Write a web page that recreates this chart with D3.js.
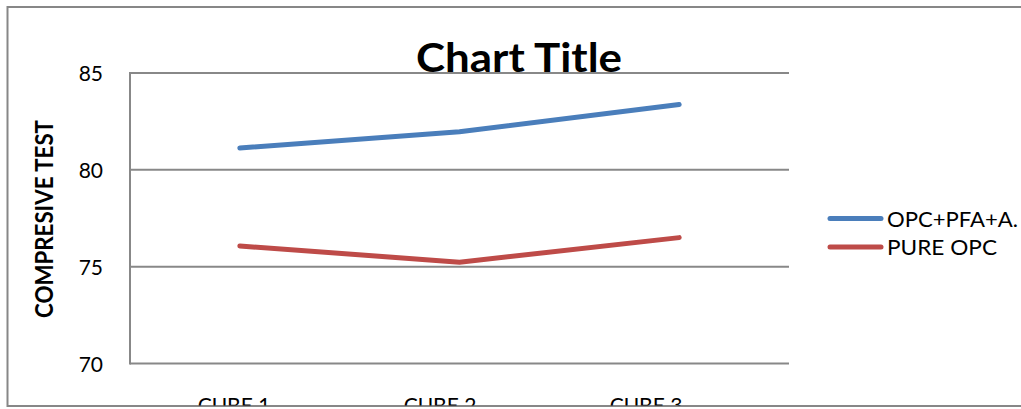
<!DOCTYPE html>
<html>
<head>
<meta charset="utf-8">
<script src="https://cdn.jsdelivr.net/npm/d3@7"></script>
<style>
  html, body { margin: 0; padding: 0; background: #fff; }
  svg { display: block; }
  text { font-family: Lato, "Open Sans", sans-serif; fill: #000; }
</style>
</head>
<body>
<svg id="chart" width="1021" height="409"></svg>
<script>
const categories = ["CUBE 1", "CUBE 2", "CUBE 3"];
const seriesNames = ["OPC+PFA+A.", "PURE OPC"];
const opcPfa = [81.13, 81.97, 83.37];
const pureOpc = [76.07, 75.23, 76.5];
const yTicks = [70, 75, 80, 85];
const chartTitle = "Chart Title";
const yTitle = "COMPRESIVE TEST";

const colors = ["#4A7EBB", "#BE4B48"];
const series = [opcPfa, pureOpc];

const svg = d3.select("#chart");
const W = 1021, H = 409;
const plot = { left: 130, right: 789, top: 73, bottom: 363.5 };

// outer chart border
svg.append("rect")
  .attr("x", 7.5).attr("y", 7).attr("width", W + 20).attr("height", 399)
  .attr("fill", "#fff").attr("stroke", "#878787").attr("stroke-width", 2);

const x = d3.scaleBand().domain(categories).range([plot.left, plot.right]);
const xLabel = d3.scaleBand().domain(categories).range([131, 749]);
const y = d3.scaleLinear().domain([70, 85]).range([plot.bottom, plot.top]);

// gridlines
svg.append("g").selectAll("line").data(yTicks).join("line")
  .attr("x1", plot.left).attr("x2", plot.right)
  .attr("y1", d => y(d)).attr("y2", d => y(d))
  .attr("stroke", "#888").attr("stroke-width", 2);

// y axis line
svg.append("line")
  .attr("x1", plot.left).attr("x2", plot.left)
  .attr("y1", plot.top - 1).attr("y2", plot.bottom + 1)
  .attr("stroke", "#888").attr("stroke-width", 2);

// y tick labels
const yAxis = d3.axisLeft(y).tickValues(yTicks).tickSize(0).tickPadding(0);
const yg = svg.append("g").attr("transform", `translate(103,0)`).call(yAxis);
yg.select(".domain").remove();
yg.selectAll("text")
  .attr("font-family", "Lato, 'Open Sans', sans-serif")
  .attr("font-size", 21).attr("fill", "#000")
  .attr("dy", "0.36em");

// x category labels (clipped by chart border)
svg.append("clipPath").attr("id", "clipBottom")
  .append("rect").attr("x", 0).attr("y", 0).attr("width", W).attr("height", 405.5);
const xAxis = d3.axisBottom(xLabel).tickSize(0).tickPadding(0);
const xg = svg.append("g").attr("clip-path", "url(#clipBottom)")
  .append("g").attr("transform", "translate(0,412.5)").call(xAxis);
xg.select(".domain").remove();
xg.selectAll("text")
  .attr("font-family", "Lato, 'Open Sans', sans-serif")
  .attr("font-size", 21).attr("fill", "#000")
  .attr("dy", 0).attr("y", 0);

// lines
const line = d3.line()
  .x((d, i) => x(categories[i]) + x.bandwidth() / 2)
  .y(d => y(d));
series.forEach((s, i) => {
  svg.append("path").datum(s)
    .attr("d", line)
    .attr("fill", "none")
    .attr("stroke", colors[i])
    .attr("stroke-width", 5)
    .attr("stroke-linecap", "round")
    .attr("stroke-linejoin", "round");
});

// title
svg.append("text")
  .attr("x", 519).attr("y", 71.5)
  .attr("text-anchor", "middle")
  .attr("font-size", 40).attr("font-weight", "bold")
  .attr("textLength", 206).attr("lengthAdjust", "spacingAndGlyphs")
  .text(chartTitle);

// y axis title
svg.append("text")
  .attr("transform", "translate(53,219) rotate(-90)")
  .attr("text-anchor", "middle")
  .attr("font-size", 25).attr("font-weight", "bold")
  .attr("textLength", 198).attr("lengthAdjust", "spacingAndGlyphs")
  .text(yTitle);

// legend
const legendY = [218.5, 247];
const legendW = [131, 110];
const lg = svg.append("g");
seriesNames.forEach((name, i) => {
  lg.append("line")
    .attr("x1", 830).attr("x2", 881)
    .attr("y1", legendY[i]).attr("y2", legendY[i])
    .attr("stroke", colors[i]).attr("stroke-width", 5)
    .attr("stroke-linecap", "round");
  lg.append("text")
    .attr("x", 887).attr("y", legendY[i] + 8)
    .attr("font-size", 21)
    .attr("textLength", legendW[i]).attr("lengthAdjust", "spacingAndGlyphs")
    .text(name);
});
</script>
</body>
</html>
